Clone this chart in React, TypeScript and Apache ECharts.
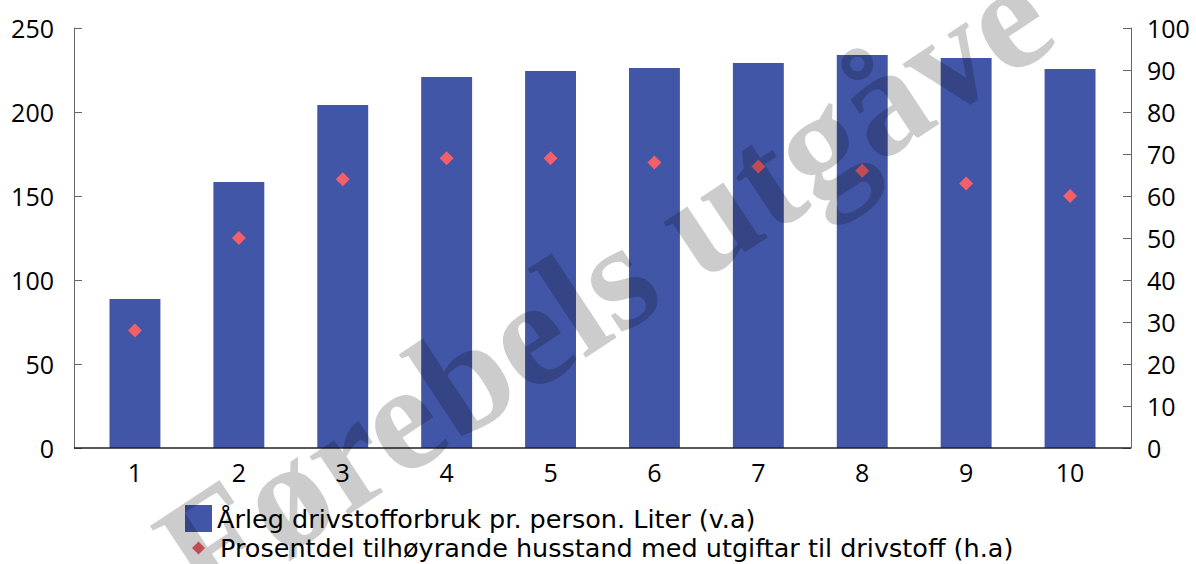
import React, { useEffect, useRef } from "react";
import * as echarts from "echarts";

const categories = ["1", "2", "3", "4", "5", "6", "7", "8", "9", "10"];
const litresPerPerson = [88.7, 158.3, 204.2, 220.8, 224.4, 226.2, 229.2, 233.9, 232.1, 225.6];
const shareWithExpenses = [28, 50, 64, 69, 69, 68, 67, 66, 63, 60];
const barName = "Årleg drivstofforbruk pr. person. Liter (v.a)";
const dotName = "Prosentdel tilhøyrande husstand med utgiftar til drivstoff (h.a)";
const watermark = "Førebels utgåve";

const tickFont = { color: "#000", fontSize: 25, fontFamily: "Open Sans" };
const legendFont = { color: "#000", fontSize: 25.5, fontFamily: "DejaVu Sans" };

export default function App() {
  const ref = useRef<HTMLDivElement>(null);
  useEffect(() => {
    if (!ref.current) return;
    const chart = echarts.init(ref.current, null, { renderer: "svg" });
    chart.setOption({
      animation: false,
      backgroundColor: "#fff",
      grid: { left: 83, right: 74, top: 28, bottom: 116, containLabel: false },
      xAxis: {
        type: "category",
        data: categories,
        axisLine: { show: false },
        axisTick: { show: false },
        axisLabel: { ...tickFont, margin: 11 },
      },
      yAxis: [
        {
          type: "value",
          min: 0,
          max: 250,
          interval: 50,
          position: "left",
          offset: 9,
          axisLine: { show: true, lineStyle: { color: "#666" } },
          axisTick: { show: true, inside: true, length: 8, lineStyle: { color: "#666" } },
          splitLine: { show: false },
          axisLabel: { ...tickFont, margin: 20 },
        },
        {
          type: "value",
          min: 0,
          max: 100,
          interval: 10,
          position: "right",
          offset: 9,
          axisLine: { show: true, lineStyle: { color: "#666" } },
          axisTick: { show: true, inside: true, length: 8, lineStyle: { color: "#666" } },
          splitLine: { show: false },
          axisLabel: { ...tickFont, margin: 16 },
        },
      ],
      legend: [
        {
          data: [{ name: barName, icon: "rect" }],
          left: 185,
          top: 505,
          itemWidth: 27,
          itemHeight: 27,
          itemGap: 0,
          padding: 0,
          textStyle: { ...legendFont },
        },
        {
          data: [{ name: dotName, icon: "diamond" }],
          left: 192,
          top: 535,
          itemWidth: 13,
          itemHeight: 13,
          padding: 0,
          textStyle: { ...legendFont, padding: [0, 0, 0, 10] },
        },
      ],
      series: [
        {
          name: barName,
          type: "bar",
          data: litresPerPerson,
          barWidth: "49%",
          itemStyle: { color: "#4156A6" },
          yAxisIndex: 0,
        },
        {
          name: dotName,
          type: "scatter",
          data: shareWithExpenses,
          yAxisIndex: 1,
          symbol: "diamond",
          symbolSize: 14,
          itemStyle: { color: "#F2606A", opacity: 1 },
        },
      ],
      graphic: [
        {
          type: "line",
          silent: true,
          z: 50,
          shape: { x1: 74, y1: 448, x2: 1131, y2: 448 },
          style: { stroke: "#222", lineWidth: 1.5 },
        },
        {
          type: "text",
          x: 604,
          y: 284,
          rotation: (33.5 * Math.PI) / 180,
          z: 100,
          silent: true,
          style: {
            text: watermark,
            font: 'bold 153px "Liberation Serif"',
            fill: "rgba(0,0,0,0.2)",
            textAlign: "center",
            textVerticalAlign: "middle",
            verticalAlign: "middle",
          },
        },
      ],
    });
    return () => chart.dispose();
  }, []);
  return (
    <div
      ref={ref}
      style={{ position: "fixed", left: 0, top: 0, width: 1196, height: 564 }}
    />
  );
}
